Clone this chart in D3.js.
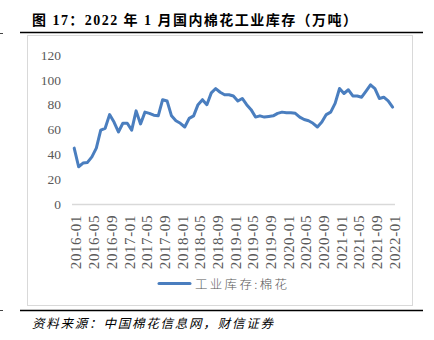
<!DOCTYPE html>
<html><head><meta charset="utf-8">
<script src="https://cdn.jsdelivr.net/npm/d3@7"></script>
<style>body{margin:0;background:#fff}svg{display:block}</style>
</head><body><svg id="c" width="434" height="340"></svg>
<script>
const title = "图 17：2022 年 1 月国内棉花工业库存（万吨）";
const source = "资料来源：中国棉花信息网，财信证券";
const seriesName = "工业库存:棉花";
const startYear = 2016, startMonth = 1;
const values = [45,30,33,33.5,38,45,59.5,61,72,66,58,65,65,59.5,75,64.5,74,73,71.5,71,
  84,83,71,67,65,62,69,71,80,84,80,89.5,93,90,88,88,87,83,85,80,
  76,70,71,70,70.5,71,73,74,73.5,73.5,73,70,68,67,65,62,66,72,74,81,
  93,89,92,87,87,86,91,96,93,85,86,83,78];
const yTicks = [0,20,40,60,80,100,120];

const months = values.map((v,i)=>{
  const m = startMonth - 1 + i;
  const y = startYear + Math.floor(m/12);
  return y + "-" + String(m%12+1).padStart(2,"0");
});
const tickLabels = months.filter((d,i)=>i%4===0);

const svg = d3.select("#c");
const serif = "'Liberation Serif','Times New Roman',serif";
const cjk = "'Liberation Serif','Noto Sans CJK SC',serif";

svg.append("text").attr("x",32).attr("y",20).attr("dominant-baseline","central")
  .attr("font-family",cjk).attr("font-weight","bold").attr("font-size",14)
  .attr("textLength",325).attr("lengthAdjust","spacing").text(title);

svg.append("line").attr("x1",20).attr("x2",423).attr("y1",32.5).attr("y2",32.5).attr("stroke","#000").attr("stroke-width",1.5);
svg.append("line").attr("x1",20).attr("x2",423).attr("y1",310.5).attr("y2",310.5).attr("stroke","#000").attr("stroke-width",1.5);
svg.append("line").attr("x1",0).attr("x2",3).attr("y1",33.5).attr("y2",33.5).attr("stroke","#444").attr("stroke-width",1);
svg.append("line").attr("x1",0).attr("x2",3).attr("y1",310.5).attr("y2",310.5).attr("stroke","#444").attr("stroke-width",1);

svg.append("rect").attr("x",27.5).attr("y",35.5).attr("width",385).attr("height",270)
  .attr("fill","#fff").attr("stroke","#d9d9d9").attr("stroke-width",1);

const x = d3.scalePoint().domain(months).range([74.2,392.6]);
const y = d3.scaleLinear().domain([0,120]).range([204,55]);

// zero line
svg.append("line").attr("x1",72).attr("x2",395).attr("y1",y(0)+0.5).attr("y2",y(0)+0.5)
  .attr("stroke","#d9d9d9").attr("stroke-width",1.5);

const yAxis = svg.append("g").attr("transform","translate(61,0)")
  .call(d3.axisLeft(y).tickValues(yTicks).tickSize(0).tickPadding(0));
yAxis.select(".domain").remove();
yAxis.selectAll("text").attr("font-family",serif).attr("font-size",13.5).attr("fill","#595959");

const xAxis = svg.append("g").attr("transform","translate(0,"+(y(0)+10)+")")
  .call(d3.axisBottom(x).tickValues(tickLabels).tickSize(0).tickPadding(0));
xAxis.select(".domain").remove();
xAxis.selectAll("text").attr("font-family",serif).attr("font-size",15).attr("fill","#595959")
  .attr("transform","rotate(-90)").attr("text-anchor","end").attr("x",-1).attr("y",1.5)
  .attr("dy","0.35em").attr("letter-spacing",0.6);

const line = d3.line().x((d,i)=>x(months[i])).y(d=>y(d));
svg.append("path").datum(values).attr("d",line).attr("fill","none")
  .attr("stroke","#4a7ebf").attr("stroke-width",3).attr("stroke-linejoin","round").attr("stroke-linecap","round");

// legend
svg.append("line").attr("x1",159).attr("x2",190).attr("y1",283.5).attr("y2",283.5)
  .attr("stroke","#4a7ebf").attr("stroke-width",3).attr("stroke-linecap","round");
svg.append("text").attr("x",195).attr("y",283.5).attr("dominant-baseline","central")
  .attr("font-family","'Noto Sans CJK SC',sans-serif").attr("font-weight",300).attr("font-size",12.5).attr("fill","#595959")
  .attr("textLength",92).attr("lengthAdjust","spacing").text(seriesName);

svg.append("text").attr("x",32).attr("y",322).attr("dominant-baseline","central")
  .attr("font-family","'Noto Sans CJK SC',sans-serif").attr("font-style","italic").attr("font-size",12.5)
  .attr("fill","#000").attr("textLength",241).attr("lengthAdjust","spacing").text(source);
</script></body></html>
